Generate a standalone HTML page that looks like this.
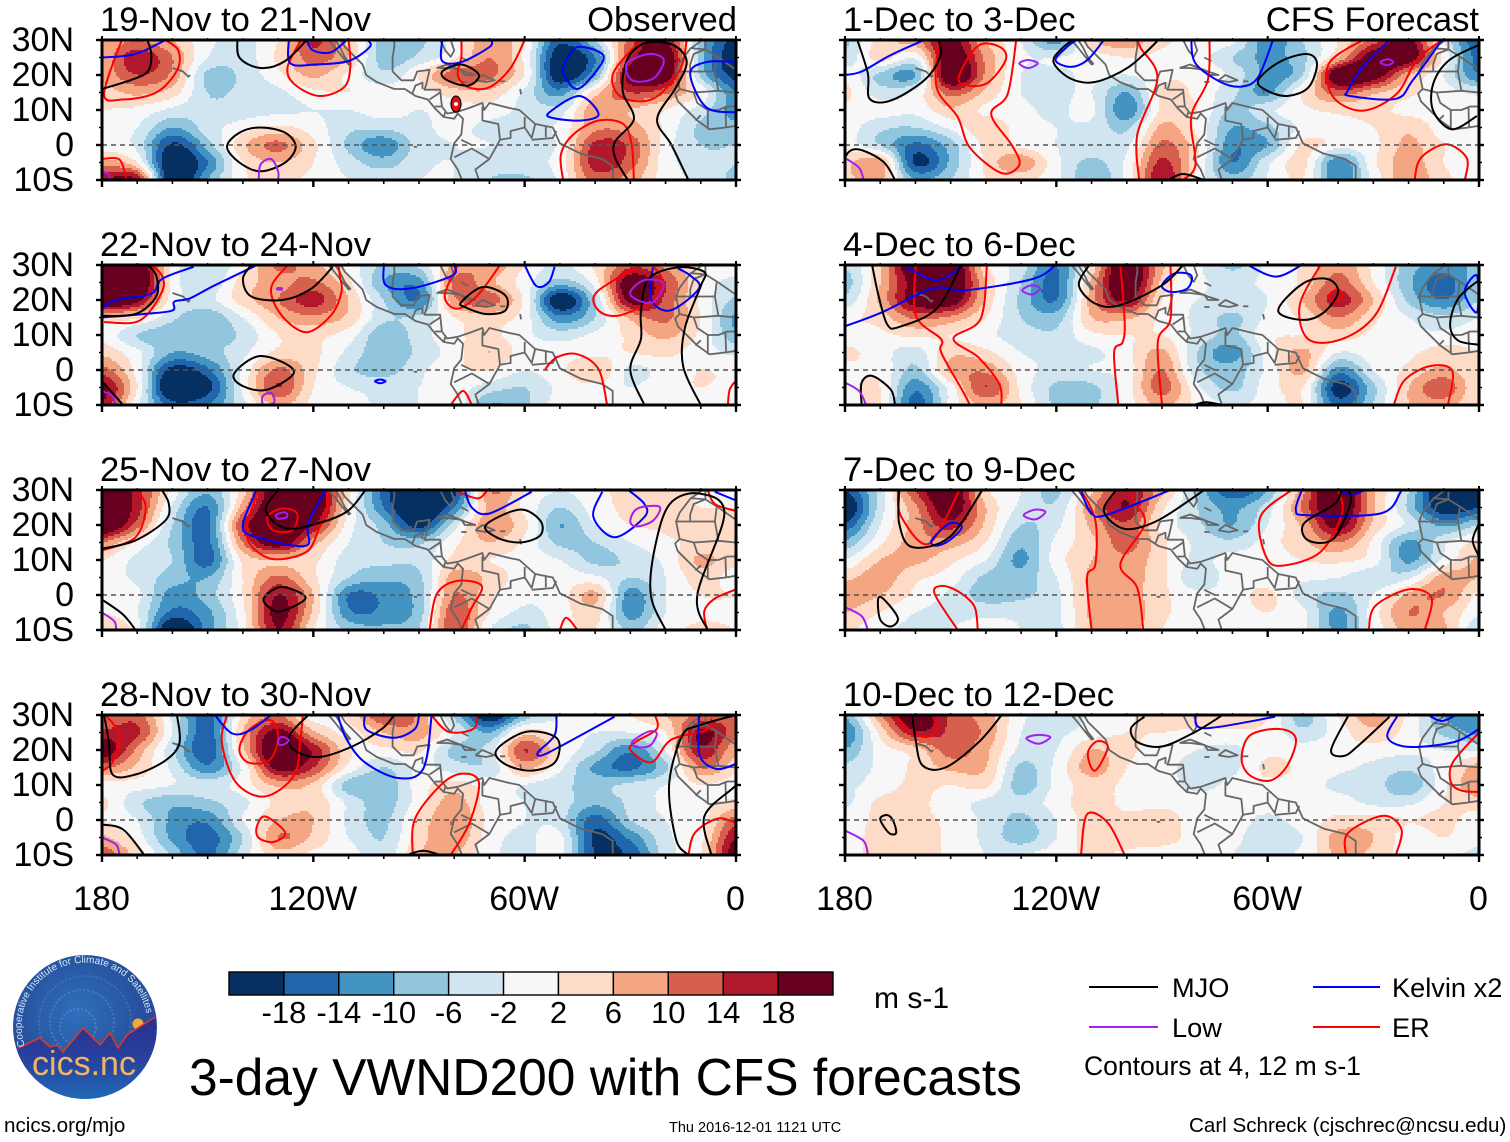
<!DOCTYPE html>
<html lang="en">
<head>
<meta charset="utf-8">
<title>3-day VWND200 with CFS forecasts</title>
<style>
html,body{margin:0;padding:0;background:#fff;width:1510px;height:1142px;overflow:hidden}
svg{display:block;font-family:"Liberation Sans",sans-serif}
</style>
</head>
<body>
<svg id="chart" xmlns="http://www.w3.org/2000/svg" width="1510" height="1142" viewBox="0 0 1510 1142">
  <defs>
    <radialGradient id="logoSky" cx="45%" cy="40%" r="70%">
      <stop offset="0" stop-color="#2f6fbc"/><stop offset="0.6" stop-color="#27529f"/><stop offset="1" stop-color="#2a3f98"/>
    </radialGradient>
    <linearGradient id="logoGround" x1="0" y1="0" x2="0" y2="1">
      <stop offset="0" stop-color="#2b2c8e"/><stop offset="0.5" stop-color="#27459f"/><stop offset="1" stop-color="#1f74bd"/>
    </linearGradient>
    <clipPath id="logoClip"><circle cx="85" cy="1027" r="72"/></clipPath>
    <path id="logoArc" d="M 25 1046 A 63 63 0 1 1 146 1040"/>
  </defs>
  <g id="panels"></g>

  <g id="colorbar"></g>
  <text x="874" y="1008" font-size="30">m s-1</text>

  <g>
    <circle cx="85" cy="1027" r="72" fill="url(#logoSky)"/>
    <g clip-path="url(#logoClip)">
      <circle cx="78" cy="1027" r="18" fill="none" stroke="#6f9fd6" stroke-width="2" stroke-dasharray="2 2" opacity=".45"/>
      <circle cx="82" cy="1022" r="32" fill="none" stroke="#6f9fd6" stroke-width="2" stroke-dasharray="2 2" opacity=".4"/>
      <circle cx="85" cy="1022" r="46" fill="none" stroke="#6f9fd6" stroke-width="2" stroke-dasharray="2 2" opacity=".3"/>
      <circle cx="138" cy="1024" r="5.5" fill="#f2a93b"/>
      <path d="M18 1048 L40 1038 L50 1047 L57 1045 L63 1052 L83 1028 L100 1045 L110 1033 L118 1048 L127 1035 L155 1017 L160 1110 L10 1110 Z" fill="url(#logoGround)" stroke="none"/>
      <path d="M18 1048 L40 1038 L50 1047 L57 1045 L63 1052 L83 1028 L100 1045 L110 1033 L118 1048 L127 1035 L155 1017" fill="none" stroke="#d8392b" stroke-width="1.6"/>
    </g>
    <text font-size="10" fill="#d6e8f6"><textPath href="#logoArc">Cooperative Institute for Climate and Satellites</textPath></text>
    <text x="84" y="1075" font-size="34" text-anchor="middle" fill="#f2b566">cics.nc</text>
  </g>

  <text x="189" y="1095" font-size="51.5">3-day VWND200 with CFS forecasts</text>

  <g>
    <line x1="1089" y1="987" x2="1158" y2="987" stroke="#000" stroke-width="2"/>
    <text x="1172" y="997" font-size="27.2">MJO</text>
    <line x1="1313" y1="987" x2="1380" y2="987" stroke="#0000ff" stroke-width="2"/>
    <text x="1392" y="997" font-size="27.2">Kelvin x2</text>
    <line x1="1089" y1="1027" x2="1158" y2="1027" stroke="#a020f0" stroke-width="2"/>
    <text x="1172" y="1037" font-size="27.2">Low</text>
    <line x1="1313" y1="1027" x2="1380" y2="1027" stroke="#ff0000" stroke-width="2"/>
    <text x="1392" y="1037" font-size="27.2">ER</text>
    <text x="1084" y="1075" font-size="26.5">Contours at 4, 12 m s-1</text>
  </g>

  <text x="4" y="1132" font-size="20.6">ncics.org/mjo</text>
  <text x="669" y="1132" font-size="14.5">Thu 2016-12-01 1121 UTC</text>
  <text x="1189" y="1132" font-size="20.6">Carl Schreck (cjschrec@ncsu.edu)</text>
</svg>

<script>
// ---------- Axis values ----------
const latLabels = ["30N","20N","10N","0","10S"];
const latTicks = [30,20,10,0,-10];
const lonLabels = ["180","120W","60W","0"];
const lonTicks = [-180,-120,-60,0];
const lonMinorTicks = [-170,-160,-150,-140,-130,-110,-100,-90,-80,-70,-50,-40,-30,-20,-10];
const latMinorTicks = [25,15,5,-5];
const colorLevels = [-18,-14,-10,-6,-2,2,6,10,14,18];
const colorHex = ["#053061","#2166ac","#4393c3","#92c5de","#d1e5f0","#f7f7f7","#fddbc7","#f4a582","#d6604d","#b2182b","#67001f"];

// ---------- Gridded wind (m/s). Rows: 30N to 10S every 5 deg. Columns: 180 to 0 every 10 deg ----------
const fieldNov19 = [
[7,10,6,-1,-3,2,15,5,-8,-7,0,9,2,-17,-6,12,18,-8,-20],
[7,17,10,-2,-4,3,12,6,-8,-5,1,10,1,-22,-14,15,24,-8,-22],
[7,14,9,-7,-5,1,7,1,-5,2,12,11,2,-22,-10,21,22,-7,-20],
[4,7,4,-6,-5,-3,1,2,0,0,4,5,-3,-12,4,14,11,1,-14],
[2,1,-3,-5,-4,-3,-2,-2,0,-2,0,0,-3,-4,9,6,2,-4,-12],
[1,-2,-10,-4,0,3,0,-5,-5,-3,-1,-3,-3,-1,9,8,1,-7,-9],
[0,-3,-19,-8,5,11,3,-7,-13,-4,-2,-2,-4,-1,15,13,0,-6,-6],
[8,2,-24,-14,2,6,2,-4,-8,-3,-2,-4,-3,0,16,12,0,-4,-6],
[18,18,-24,-10,1,3,1,-2,-3,-2,-2,-6,-7,-1,12,8,0,-3,-7]];
const fieldNov22 = [
[26,24,1,-6,1,11,7,1,-7,-5,7,9,2,-3,3,13,9,2,1],
[26,26,1,-5,4,8,11,3,-10,-12,11,7,0,-8,0,22,14,2,-4],
[26,20,0,-3,4,10,16,6,-6,-14,9,12,1,-22,-6,20,13,1,-7],
[5,3,-5,-9,-2,6,9,5,-5,-5,2,4,0,-13,-6,7,11,2,-11],
[1,-6,-9,-9,-5,2,3,0,-9,-4,1,3,-1,-4,-1,3,7,1,-9],
[5,-1,-10,-8,-3,3,3,-3,-9,-5,0,6,0,0,1,2,3,0,-3],
[12,0,-20,-15,-1,11,3,-5,-8,-3,1,2,-2,1,6,-3,0,2,1],
[20,2,-26,-20,-1,14,2,-2,-3,-2,0,-4,-6,-1,1,-2,1,2,1],
[18,-1,-16,-14,-3,7,1,0,-3,-2,1,-10,-7,0,0,0,1,1,0]];
const fieldNov25 = [
[24,16,1,-9,4,24,24,3,-16,-26,-20,10,2,-2,1,3,3,2,1],
[26,16,-3,-14,8,26,24,2,-14,-26,-14,7,1,-6,0,3,4,2,2],
[26,12,-6,-15,15,26,18,0,-8,-20,-4,9,3,-10,-2,2,3,6,3],
[10,1,-7,-15,10,22,8,-2,-6,-7,1,6,1,-7,-6,-2,1,3,3],
[2,-3,-6,-16,3,6,3,-4,-5,-5,3,2,0,-2,-7,-5,-1,7,3],
[0,-3,-8,-10,2,11,3,-6,-9,-7,8,5,0,0,-1,-6,-2,4,0],
[1,-1,-12,-8,2,18,6,-14,-13,-8,10,3,-1,0,7,-12,-2,2,2],
[2,-2,-15,-11,1,20,5,-13,-13,-8,13,2,-3,0,4,-12,-2,1,1],
[6,0,-24,-12,0,18,2,-7,-9,-6,14,-2,-7,0,2,-7,0,3,2]];
const fieldNov28 = [
[9,12,-3,-16,3,10,0,3,14,9,-7,-22,-9,-2,0,2,6,11,12],
[15,15,-2,-16,6,20,7,1,6,8,-2,-10,4,0,-2,-2,2,19,12],
[22,9,-5,-17,5,26,17,3,1,3,-7,-4,14,2,-5,-13,-2,17,7],
[11,5,-3,-13,-1,20,14,1,-6,-1,-4,-5,7,-1,-11,-15,-7,10,4],
[1,0,-2,-4,0,7,5,-8,-9,0,4,0,-2,-5,-7,-5,-2,2,0],
[3,-5,-9,-7,-3,3,5,-3,-8,0,8,0,-2,-4,-9,-5,-1,1,3],
[2,-2,-11,-13,-2,6,6,-3,-7,3,10,1,-2,-4,-16,-6,-2,0,12],
[7,0,-11,-16,-6,10,5,-2,-6,4,9,0,-3,-1,-19,-13,-3,1,18],
[13,4,-7,-15,-4,4,1,0,-5,6,6,-1,-3,-1,-18,-17,-4,2,22]];
const fieldDec1 = [
[-7,4,9,20,6,-2,-12,5,9,3,1,-1,-12,-6,2,12,20,-2,-18],
[-5,4,-1,22,9,-1,-2,0,2,1,0,-6,-11,-7,6,22,22,1,-16],
[1,-7,-10,25,9,-2,-3,-1,-2,1,1,-3,-11,-6,24,22,7,-2,-14],
[3,-4,-1,12,5,-2,-3,-2,-10,3,1,-5,-11,2,12,7,3,0,-3],
[1,0,-1,5,1,-1,-3,-1,-13,3,2,-7,-3,1,3,3,1,0,0],
[0,-5,-6,-1,5,0,-2,-3,-7,7,1,-10,-7,-1,1,2,5,0,0],
[0,-6,-15,-8,3,1,-2,-3,-3,11,3,-13,-10,3,0,1,7,2,0],
[5,8,-19,-9,3,9,-1,-7,-1,15,2,-14,-3,3,-13,1,8,2,0],
[5,7,-10,-6,2,3,-1,-9,-1,18,1,-8,-2,2,-13,-1,9,3,0]];
const fieldDec4 = [
[-6,6,25,25,3,-4,-14,3,25,7,-1,-7,-1,3,9,1,-8,-12,-9],
[-8,6,21,25,6,-6,-15,7,24,5,-1,-3,-1,3,12,2,-9,-16,-7],
[-5,7,21,22,5,-7,-14,8,19,2,-2,-3,-2,6,16,6,-7,-14,-6],
[1,4,11,9,2,-6,-8,6,7,1,-3,-7,-1,3,10,3,-2,-5,-2],
[0,1,3,2,-1,-4,-5,1,2,2,-3,-7,1,2,4,1,-1,-1,0],
[3,0,-4,5,3,-2,-3,-3,1,7,-6,-12,0,7,-2,0,1,4,2],
[1,1,-7,7,9,0,-3,-2,0,10,-5,-8,-1,7,-12,-2,3,7,2],
[1,2,-13,0,14,1,-7,-7,0,12,-1,-7,0,2,-20,-7,6,13,2],
[0,2,-16,-1,7,2,-7,-7,0,7,1,-2,-1,2,-16,-6,6,8,2]];
const fieldDec7 = [
[-18,-4,14,24,3,-2,-7,5,17,7,-7,-17,-10,9,26,7,-6,-24,-24],
[-24,-4,9,22,6,-3,-5,9,18,3,-6,-11,-4,11,24,7,-7,-22,-18],
[-17,-2,8,16,5,-6,-3,7,13,1,-5,-10,-2,7,20,5,-3,-11,-6],
[-9,1,8,8,2,-9,-1,5,12,3,-3,-5,0,5,10,1,-11,-3,3],
[-2,6,7,3,-2,-11,0,6,9,3,-3,0,0,2,3,0,-11,-1,7],
[5,8,3,0,-7,-8,-2,7,8,3,-5,0,0,-1,-2,-5,-3,8,6],
[8,6,1,-3,-8,-7,-3,7,8,3,-1,0,3,-4,-7,-2,7,10,1],
[6,2,-2,-3,-3,-3,-3,7,9,3,0,0,2,-1,-11,0,10,6,-1],
[3,-1,-3,-2,0,-2,-3,6,8,2,0,0,1,-1,-11,-1,8,7,-6]];
const fieldDec10 = [
[-10,9,23,13,8,-1,-5,-1,1,6,4,5,2,-8,2,8,1,-10,-13],
[-14,3,17,13,9,-2,-3,0,2,2,1,1,1,-5,0,5,0,-7,-11],
[-10,0,4,12,7,-3,-2,6,3,0,-2,-3,1,0,1,0,-1,-2,-2],
[-5,-1,3,7,6,-7,-1,8,2,-1,-3,-3,3,1,-1,-3,-5,0,8],
[-3,0,3,2,3,-8,-1,4,1,0,-3,-1,1,0,-3,-4,-9,1,10],
[-3,3,3,0,-3,-5,0,4,1,1,0,0,0,0,0,-3,-3,2,4],
[0,3,3,1,-3,-7,-2,4,3,4,0,0,-3,0,3,4,2,3,0],
[1,3,4,1,-3,-8,-2,4,4,3,1,-1,-4,-2,8,6,0,2,-1],
[1,3,4,1,-2,-2,0,3,1,1,1,-2,-3,-1,7,5,0,-1,-3]];

// ---------- Contours in [lon, lat] ----------
const mjoNov19 = [
[[-167.5,31],[-166,26],[-167,21],[-172,18.5],[-180,16]],
[[-141.5,31],[-141,25],[-135,22],[-128,24],[-121,31]],
[[-144.5,-0.5],[-141,3.5],[-135,5],[-128,3.5],[-125,-0.5],[-128,-5],[-135,-7.5],[-141,-5]],
[[-83.4,21],[-78,23],[-73,20],[-76,17],[-82,18.5]],
[[-30.7,-10],[-34.3,-3.7],[-34.3,1],[-29,7.4],[-32,14.6],[-32,20.4],[-30,26],[-25,29.3],[-17.7,28.5],[-14,23.8],[-17,16.5],[-22.4,7.4],[-18.3,0],[-13.5,-10]]];
const erNov19 = [
[[-174,31],[-179.4,14.6],[-174,13],[-164.6,15],[-158.7,21.3],[-158.3,27],[-162,30]],
[[-123.5,30],[-127.3,22.3],[-125.5,17.5],[-118.4,14],[-111.3,16.5],[-109.5,22.3],[-110,30]],
[[-49.1,-10],[-49.7,-2.7],[-46.2,3],[-39,7],[-32,6],[-29.6,0],[-29,-10]],
[[-78,30.5],[-78,25],[-79,20],[-76,16.5],[-70,16.5],[-64,22],[-60,30]],
[[-27,30],[-34.9,20.4],[-32.5,13.7],[-23.6,13.2],[-16,21.3],[-14,30]],
[[-180,-4],[-175,-4.2],[-173,-10]]];
const kelvinNov19 = [
[[-180,25],[-170.5,26],[-161,30.5]],
[[-122,30],[-120,27],[-115,26.5],[-110.5,30]],
[[-127,30],[-126.5,23.3],[-119.5,23],[-110,24],[-104,28],[-104.5,30]],
[[-83.4,30],[-83.4,24],[-78,23.7],[-70,28],[-69.5,30]],
[[-48.5,23.5],[-45,28],[-38,26],[-39,22],[-45,16],[-49,20.5]],
[[-53,9.3],[-44.5,14],[-39,8.8],[-44,7],[-52,7.7]],
[[0,23.7],[-8.5,23.7],[-13,20.4],[-8.5,10.8],[0,9.3]]];
const lowNov19 = [
[[-31,23.3],[-24.5,26],[-20.5,24.2],[-23.5,19],[-29.5,18.5]],
[[-135.5,-10],[-135,-5.6],[-132,-4],[-130,-7.5],[-130,-10]],
[[-180,-7.5],[-178,-8.5],[-178,-10]]];

const mjoNov22 = [
[[-180,15.5],[-170.5,16],[-164.6,21],[-164.6,27],[-167,30]],
[[-137.6,30],[-140,26],[-137.6,21],[-128.8,20],[-120.5,23.3],[-114.5,29.5]],
[[-142.5,-1],[-135,4],[-125.5,-0.3],[-133,-5.6],[-140,-4.6]],
[[-78,19.4],[-72,23.7],[-65.5,21.3],[-65.5,17],[-71,16],[-77,18]],
[[-26,-10],[-30,0],[-27,8.8],[-27,16.5],[-24.8,26],[-16.5,29.3],[-9,28],[-10,24],[-14.5,12],[-15,1],[-10,-10]],
[[-180,-3.2],[-174,-10]]];
const erNov22 = [
[[-179.4,13.7],[-169.3,14.1],[-163,22.3],[-163,27],[-166,30]],
[[-127.3,30],[-132,23.3],[-129,15.6],[-122,10.8],[-115,15.6],[-112,22.3],[-112.5,27],[-113,31]],
[[-79,30],[-82.7,21.3],[-79.3,17.5],[-73.4,21.3],[-67,30]],
[[-27,30],[-39.5,22.3],[-39,17],[-33,15.6],[-23.4,20.4],[-21,25.7],[-23.4,29.5]],
[[-54.2,0.2],[-50.9,3.6],[-45,4.5],[-39,0.2],[-36.6,-10]],
[[-81,-10],[-77.5,-6],[-75,-10]],
[[-2.3,-10],[-1.8,-5.6],[0,-3]]];
const kelvinNov22 = [
[[-180,17.5],[-176,20],[-166,21.8],[-163,26],[-154,29.5]],
[[-180,15],[-168,16],[-160,17],[-159.5,19.5],[-155,20.5],[-148,24.2],[-136,30]],
[[-100,30],[-99.4,24.2],[-92.3,23.3],[-80.5,27],[-80,30]],
[[-60,30],[-56.7,24],[-53.2,25],[-51.5,29.5]],
[[-23.6,29.3],[-24.2,20.4],[-18.8,17],[-10.5,23.3],[-13,27],[-16.5,29]],
[[-102.5,-3.2],[-101,-2.7],[-99.5,-3.2],[-101,-3.8]]];
const lowNov22 = [
[[-30,22.3],[-26,25.7],[-20.5,24.7],[-23.5,19.4],[-28,20]],
[[-134.4,-10],[-134.4,-7.5],[-132,-6.5],[-131,-9],[-132.5,-10]],
[[-180,-6],[-177,-7.5],[-176.4,-10]],
[[-130.2,23.4],[-129,23.4],[-129,23],[-130.2,23]]];

const mjoNov25 = [
[[-180,13.2],[-170.5,15.6],[-162,21.3],[-161,26],[-163,30]],
[[-130,30],[-133.5,24.2],[-127.6,19],[-117,21],[-110,24.2],[-105.2,30]],
[[-71,20],[-61.5,24.4],[-55.6,21.3],[-55.6,17],[-61.5,15],[-68,16.5]],
[[-134,-0.8],[-129,2.3],[-122.2,-0.8],[-129,-4.6],[-132.5,-3.6]],
[[-20,-10],[-24.2,0],[-23,13.7],[-18.8,26],[-10.5,29],[-3.3,23.3],[-11,0],[-8,-10]],
[[-180,-1.3],[-174,-5.6],[-170.5,-10]]];
const erNov25 = [
[[-170,30],[-167.6,25],[-170.5,16.5],[-180,12.7]],
[[-135.6,30],[-138.6,20.4],[-138,14.6],[-131.6,10.3],[-122,12.3],[-118.4,19],[-116.2,24.2],[-116,30]],
[[-133,22.3],[-129,24.7],[-124.6,23.3],[-126,18.5],[-131.4,18.5]],
[[-87,-10],[-85,0.2],[-79.3,4],[-72.2,2.6],[-75,-3.6],[-78,-10]],
[[-50,-10],[-48.2,-6.5],[-45,-10]],
[[-8.2,-10],[-9,-4.6],[-6,-1],[0,1.6]],
[[-80,30],[-73.5,27.6],[-70.5,30]],
[[-8,30],[-6,26],[0,24]]];
const kelvinNov25 = [
[[-135.6,31],[-137,28],[-140,19],[-134,16],[-122,14.1],[-121.5,20.4],[-116.5,30]],
[[-77,30],[-75,25],[-70,23.3],[-58,29.5]],
[[-38,29.5],[-40.5,22.3],[-34.4,16.5],[-26,22.3],[-26,26],[-30.6,30]],
[[-6,29.5],[0,27]]];
const lowNov25 = [
[[-30,21],[-28,24.7],[-21.7,25.2],[-23.5,21.3],[-28,19.6]],
[[-130.5,23],[-128,23.6],[-127.5,22.3],[-130,21.8]],
[[-180,-5],[-176.5,-7.5],[-176,-10]]];

const mjoNov28 = [
[[-179.4,30],[-178,22],[-177,13],[-170.5,13],[-162,17],[-158,22],[-158.7,30]],
[[-121.4,30],[-126.7,24.2],[-125.5,20],[-118.4,18],[-109,21],[-100.6,26],[-97,30]],
[[-68,20],[-59.6,25.2],[-50.8,23.3],[-51.4,16.5],[-58.4,14.1],[-65.6,16]],
[[-93.5,-10],[-88.8,-8.8],[-84,-10]],
[[-13.5,-10],[-17,-5.6],[-19,10],[-15.3,24],[-10.5,27],[0,30]],
[[-7,-10],[-9,1],[-1,9],[0,9.5]],
[[-180,-1.3],[-174,-2.7],[-168,-10]]];
const erNov28 = [
[[-179,30],[-175,24.2],[-177,16.5],[-180,14]],
[[-144.5,30],[-146,22.3],[-142,10.8],[-133.8,6.7],[-125.5,12.7],[-123.7,23],[-123,30]],
[[-141,20.4],[-138,26],[-132,28.5],[-130,23.3],[-132.6,17],[-138.6,16.5]],
[[-136,-1.7],[-133.6,1],[-128,-3.6],[-131.4,-6.3],[-135.6,-5]],
[[-91.8,-10],[-91.2,0.2],[-84,9.8],[-78,13.2],[-73,10.8],[-75.6,-0.7],[-81,-10]],
[[-86.5,30],[-81.6,25.2],[-74.6,26],[-73.4,30]],
[[-23,30],[-22.5,26],[-28.5,22.3],[-30,20],[-24,16.5],[-18.3,23],[-8.3,25.7],[-7,29]],
[[-13.5,-10],[-11.7,-3.7],[-5.3,0.4],[0,-0.8]]];
const kelvinNov28 = [
[[-105.4,30],[-104.8,25.7],[-97,23.5],[-91.2,26],[-90,30]],
[[-148,30],[-143,24.7],[-137.8,25.7],[-132,30]],
[[-113,30],[-110.7,23.3],[-105.4,16.5],[-96,12],[-88.8,14.6],[-86.4,30]],
[[-51,30],[-51.5,24.2],[-56.2,19.4],[-55,18.5],[-48.5,21.8],[-34.5,29.5]],
[[-10.5,30],[-10.3,18.5],[-5.6,14.6],[0,16]]];
const lowNov28 = [
[[-29.5,22.3],[-25,25.2],[-22.5,24.7],[-24.4,21.3],[-28,20.8]],
[[-129.7,23.3],[-128.5,23.7],[-127,22.8],[-128.5,21.5],[-130,21.8]],
[[-180,-5],[-176,-7],[-175,-10]]];

const mjoDec1 = [
[[-176.5,30],[-173.5,20.4],[-173,13.2],[-167,12.7],[-157.5,18.5],[-153,25.2],[-153.4,30]],
[[-180,-10],[-180,-3.7],[-176.5,-1.2],[-169.3,-4.6],[-165.8,-10]],
[[-114,31],[-118.4,27.6],[-120.8,23.7],[-116,19],[-109,18],[-99.4,22.3],[-91,30]],
[[-88.2,-10],[-84,-8.3],[-78.1,-10]],
[[-62.7,18.5],[-56.7,23.7],[-49,26],[-46,23.3],[-48.4,16.5],[-54.4,14],[-60.3,15.6]],
[[0,28.6],[-8.5,24.2],[-13,17.5],[-13,9.8],[-7.7,4.5],[-0.6,8.3]]];
const erDec1 = [
[[-147,21.3],[-142,28.5],[-136,28],[-134.4,24.2],[-140,17.5],[-147,17.5]],
[[-153.4,30],[-154,16.5],[-148,8],[-144.5,-0.8],[-135.6,-8],[-130.5,-5.6],[-132.6,-0.1],[-138.5,8.8],[-133.8,14.6],[-131.4,30]],
[[-97,30],[-96,27.6],[-91.3,19],[-97,3],[-96.5,-10]],
[[-76.5,30],[-77,18.5],[-81.7,8],[-80.5,-5.6],[-84,-10]],
[[-33,30],[-42.6,23.3],[-41.4,13.7],[-33,9.8],[-23.4,14.6],[-17.7,24.2],[-10.5,30]],
[[-18.3,-10],[-16.5,-3.7],[-9.4,0.2],[-3.5,-3.7],[-4,-10]]];
const kelvinDec1 = [
[[-180,20],[-175.3,21],[-167,25.7],[-157.5,30]],
[[-106.5,30],[-111.3,24.2],[-116,22.3],[-120.2,24.2],[-117,28],[-114.3,30]],
[[-81.7,30],[-80.5,23.3],[-73.4,18],[-67.4,16.7],[-62.7,19.4],[-58.5,30]],
[[-25.4,30],[-33,22.3],[-37.2,15.6],[-36.6,14],[-23.6,13.2],[-18.8,18.5],[-10.5,30]]];
const lowDec1 = [
[[-28,23.6],[-26,24.5],[-24.4,23.7],[-26,22.8]],
[[-130.5,23.3],[-128,24.3],[-125.3,23.3],[-128,22]],
[[-180,-3.7],[-176,-6.5],[-174.7,-10]]];

const mjoDec4 = [
[[-172.3,30],[-170.5,21.3],[-168,13],[-164.6,12.3],[-154,17.5],[-147,30]],
[[-110.7,30],[-113.6,24.2],[-109,19],[-102,18.5],[-90,24.2],[-84,30]],
[[-57,17],[-50,24.7],[-43,26],[-40,22.3],[-44,16.5],[-50,14.3]],
[[-175.3,-10],[-175.3,-3.7],[-172.3,-1.7],[-167,-5.6],[-165.8,-10]],
[[-81,-10],[-77.5,-9.2],[-72.8,-10]],
[[0,25.7],[-5.9,20.4],[-8.2,13],[-5.9,8.4],[0,7.2]]];
const erDec4 = [
[[-159.9,30],[-159.9,15.6],[-152.7,8.8],[-152.7,5],[-146.8,-5.6],[-144.5,-10]],
[[-139.7,30],[-141.5,14.6],[-149.2,9],[-142.1,3.6],[-136.2,-4],[-135.6,-10]],
[[-101.8,30],[-100.6,13.7],[-101.2,7.9],[-103.6,5],[-102.4,-10]],
[[-87.6,30],[-87.6,14.6],[-91.2,8],[-90,-10]],
[[-45,30],[-50.9,18.5],[-48.5,8.8],[-39,8.8],[-29.5,15.6],[-23.6,29.5]],
[[-42.6,21.3],[-40.2,23],[-38.8,21.3],[-40.8,19.6]],
[[-24.2,-10],[-21.2,-3],[-14,1.1],[-7.6,-0.2],[-8.8,-10]]];
const kelvinDec4 = [
[[-180,12.5],[-169.5,16.5],[-155.1,23.3],[-145.6,22.8],[-126.7,26],[-120.2,30]],
[[-162.8,29.5],[-154,25.7],[-146.8,29.5]],
[[-90,24.2],[-86.4,27.6],[-81.7,27],[-82.8,23.3],[-87.6,22.3]],
[[-65.7,30],[-57.7,26.7],[-50.3,30]],
[[-0.6,27],[-4.1,22.3],[-0.6,16.5]]];
const lowDec4 = [
[[-129.7,22.8],[-127,24.2],[-124.6,23.3],[-127,21.6]],
[[-180,-3.6],[-176,-6],[-174,-10]]];

const mjoDec7 = [
[[-164.6,30],[-164.6,20.4],[-161,13.7],[-150.4,16.5],[-141,30]],
[[-103,30],[-106.5,24],[-100.6,18.9],[-91.2,21.3],[-78,30]],
[[-39,30],[-41,26],[-49.7,20.4],[-48.5,15.6],[-41.4,16],[-36.5,26],[-37,30]],
[[-170.6,-1.2],[-169,-1.2],[-165,-6.5],[-167,-9],[-170,-7]],
[[0,20.4],[-1.8,15.6],[0,11]]];
const erDec7 = [
[[-165,30],[-164,22.3],[-156.3,14.6],[-148,29],[-147.5,31]],
[[-113,30],[-108.9,21.3],[-108.9,8.8],[-111.3,5],[-110,-10]],
[[-99,31],[-98.2,27],[-94.9,20.4],[-101.8,8.8],[-97,2],[-95.3,-10]],
[[-53.2,30],[-62.1,22.3],[-60.4,10.8],[-55.7,8.4],[-45,12.3],[-38.9,23.3],[-40,30]],
[[-148,-10],[-154.5,0.2],[-152.7,2.6],[-148,1.1],[-143.3,-3.2],[-142.3,-10]],
[[-31.3,-10],[-29.5,-3.2],[-20,1.6],[-13.5,-0.8],[-15.4,-10]]];
const kelvinDec7 = [
[[-155.4,15.6],[-150.4,20.4],[-146.8,19.4],[-150.4,15.6],[-154,14.1]],
[[-113,29.5],[-110,23.3],[-105.4,23],[-87.6,30]],
[[-50.3,30],[-52,24.2],[-48.5,22.8],[-28,23.3],[-22.5,29],[-23,30]],
[[-39.4,29.5],[-36,28.7],[-32.4,30]]];
const lowDec7 = [
[[-129.3,22.8],[-126,24.4],[-123.1,23.7],[-126,21.6]],
[[-180,-3.5],[-175.3,-6],[-173.5,-10]]];

const mjoDec10 = [
[[-161,31],[-160,23.3],[-158,15.6],[-151.5,15],[-142,22.3],[-135.5,30]],
[[-95,29.5],[-98.8,26.2],[-97,22.3],[-90,21],[-80.5,25.2],[-72.8,30]],
[[-37,30],[-42,20],[-38.4,18.3],[-34.2,21.3],[-25.4,29.5]],
[[-170,0.2],[-168,1.4],[-166.3,-0.3],[-165.5,-3.7],[-167.5,-3.7]]];
const erDec10 = [
[[-165.2,30],[-162.8,26],[-157,23.7],[-154,26],[-155,29.5]],
[[-111,19.4],[-108.4,22.5],[-105.4,20.9],[-108.4,14.6],[-110.1,15]],
[[-67.4,17.5],[-65,24.2],[-56.7,26],[-52,23.3],[-54.4,15.6],[-59.2,11.3],[-65,12.7]],
[[-113,-10],[-111.3,1.6],[-105.4,-0.8],[-100.6,-10]],
[[-37.8,-10],[-37.2,-3.7],[-27.2,1.2],[-22,-2.7],[-23.6,-10]],
[[0,25],[-7.4,16.5],[-8,10.8],[-5,8.4],[0,8]]];
const kelvinDec10 = [
[[-80.5,30],[-78,26.2],[-57.9,29.5]],
[[-23,30],[-26,23.7],[-20,20.9],[-7,22.3],[0,26]],
[[-14,29.7],[-10.6,28.3],[-7,29.7]]];
const lowDec10 = [
[[-128.5,23.3],[-125.5,24.3],[-121.7,23.7],[-125,21.8]],
[[-180,-3],[-174.7,-6],[-173.5,-10]]];

// ---------- Coastlines and borders in [lon, lat] ----------
const coastLines = [
[[-117,32.5],[-115.7,30],[-114,28],[-112,25.5],[-110,23],[-109.5,23.2],[-111,25],[-112.5,28],[-114.5,31]],
[[-113,31.3],[-111,28],[-109,26],[-106,23],[-105,20],[-102,18],[-97,16],[-94,16],[-91,14],[-87.5,13],[-85.5,10.5],[-83,8],[-80,7.5],[-79,9],[-77.5,7.5],[-78,3],[-80,0.5],[-81,-4],[-79,-7],[-77,-12]],
[[-97,30],[-97,28],[-97.5,25],[-97.5,21],[-95,18.5],[-91.5,18.5],[-90.5,21],[-87,21.5],[-88,17],[-88.5,15.8],[-84,15.8],[-83.5,11],[-82,9],[-79,9.5],[-75.5,10.7],[-72,12],[-71.5,10],[-70,12],[-64,10.5],[-61.5,10],[-57,6],[-52,5],[-50,0.5],[-44,-2.5],[-38,-4],[-35,-6],[-35,-10]],
[[-90,30],[-84,30],[-82.5,27],[-81,25.2],[-80,27],[-81,30]],
[[-85,22],[-82,23],[-77,21],[-74,20],[-77,20],[-78,21.5],[-82,22],[-85,22]],
[[-74,18.5],[-72,20],[-68.5,18.5],[-71,18],[-74,18.5]],
[[-67,18.2],[-65.5,18.2]],[[-78,18],[-76.5,18]],[[-78,25],[-76,24]],
[[-160,22],[-157,21],[-155.5,19.5],[-155,20]],
[[-91.5,-0.5],[-90.5,-0.5]],[[-61.3,16],[-61,14.5]],
[[-9.5,30],[-13,27.5],[-16,23.5],[-17,21],[-16,16],[-17.3,14.7],[-16.5,12.5],[-13.5,9.5],[-11,7],[-7.5,4.5],[-3,5],[0,5.5]],
[[-17,21],[-13,21],[-13,23],[-12,26],[-8.7,27.3],[-13,27.7]],
[[-8.7,27.3],[-8.7,30]],[[-8.7,27.3],[-5,25],[0,21.5]],
[[-13,21],[-6,21],[-5.5,25]],[[-6,21],[-5,15.5],[-12,15],[-16,16]],
[[-12,15],[-11,12],[-8,10],[-5,10],[-2.5,11],[0,11]],
[[-8,10],[-8,4.5]],[[-2.8,5],[-3,11]],[[-11.5,7],[-10,8.5]],[[-5,15.5],[0,15]],
[[-72,11],[-72,7],[-67.5,6],[-67,1.5],[-70,-4],[-74,-7],[-73,-10]],
[[-80,-3.5],[-75,-1],[-70,-4]],[[-78,1.5],[-75,0]],
[[-60,8],[-60,5],[-64,4],[-64,2],[-67,1.5]],[[-57,6],[-58,2],[-60,5]],
[[-54,5.5],[-54,2.2]],[[-58,1.5],[-52,2],[-51,4]],
[[-92,14.5],[-91,17],[-89,17.8],[-89,16]],[[-87,13],[-84,15]],[[-85.5,11],[-83.7,11]],[[-83,8],[-82.5,9.5]]];

// ---------- Panel definitions ----------
const panelTitles = ["19-Nov to 21-Nov","22-Nov to 24-Nov","25-Nov to 27-Nov","28-Nov to 30-Nov","1-Dec to 3-Dec","4-Dec to 6-Dec","7-Dec to 9-Dec","10-Dec to 12-Dec"];
const panelFields = [fieldNov19,fieldNov22,fieldNov25,fieldNov28,fieldDec1,fieldDec4,fieldDec7,fieldDec10];
const panelMjo = [mjoNov19,mjoNov22,mjoNov25,mjoNov28,mjoDec1,mjoDec4,mjoDec7,mjoDec10];
const panelEr = [erNov19,erNov22,erNov25,erNov28,erDec1,erDec4,erDec7,erDec10];
const panelKelvin = [kelvinNov19,kelvinNov22,kelvinNov25,kelvinNov28,kelvinDec1,kelvinDec4,kelvinDec7,kelvinDec10];
const panelLow = [lowNov19,lowNov22,lowNov25,lowNov28,lowDec1,lowDec4,lowDec7,lowDec10];
const cycloneLon = -79.5;
const cycloneLat = 11.7;

const NS = "http://www.w3.org/2000/svg";
const PW = 634, PH = 140, STEP = 2;
const colX = [102, 845];
const rowY = [40, 265, 490, 715];

function el(tag, attrs, parent) {
  const e = document.createElementNS(NS, tag);
  for (const k in attrs) e.setAttribute(k, attrs[k]);
  parent.appendChild(e);
  return e;
}
function levelIndex(v) {
  let i = 0;
  while (i < colorLevels.length && v >= colorLevels[i]) i++;
  return i;
}
function cubic(a, b, c, d, t) {
  return b + 0.5 * t * (c - a + t * (2 * a - 5 * b + 4 * c - d + t * (3 * (b - c) + d - a)));
}
function sample(grid, lon, lat) {
  const fx = (lon + 180) / 10, fy = (30 - lat) / 5;
  const ix = Math.min(17, Math.floor(fx)), iy = Math.min(7, Math.floor(fy));
  const tx = fx - ix, ty = fy - iy;
  const vals = [];
  for (let j = -1; j <= 2; j++) {
    const row = grid[Math.max(0, Math.min(8, iy + j))];
    const g = i => { const v = row[Math.max(0, Math.min(18, i))]; return v === undefined ? 0 : v; };
    vals.push(cubic(g(ix - 1), g(ix), g(ix + 1), g(ix + 2), tx));
  }
  return cubic(vals[0], vals[1], vals[2], vals[3], ty);
}
function smoothPath(pts, xs, ys) {
  const p = pts.map(q => [xs(q[0]), ys(q[1])]);
  const a = pts[0], b = pts[pts.length - 1];
  const inner = q => q[0] > -179.5 && q[0] < -0.5 && q[1] < 28.8 && q[1] > -9.5;
  const closed = inner(a) && inner(b);
  const n = p.length;
  const at = i => closed ? p[(i + n) % n] : p[Math.max(0, Math.min(n - 1, i))];
  let d = "M" + p[0][0].toFixed(1) + " " + p[0][1].toFixed(1);
  const segs = closed ? n : n - 1;
  for (let i = 0; i < segs; i++) {
    const p0 = at(i - 1), p1 = at(i), p2 = at(i + 1), p3 = at(i + 2);
    const c1 = [p1[0] + (p2[0] - p0[0]) / 6, p1[1] + (p2[1] - p0[1]) / 6];
    const c2 = [p2[0] - (p3[0] - p1[0]) / 6, p2[1] - (p3[1] - p1[1]) / 6];
    d += "C" + c1[0].toFixed(1) + " " + c1[1].toFixed(1) + " " + c2[0].toFixed(1) + " " + c2[1].toFixed(1) + " " + p2[0].toFixed(1) + " " + p2[1].toFixed(1);
  }
  return d + (closed ? "Z" : "");
}

const root = document.getElementById("panels");
const defs = document.querySelector("#chart defs");

panelTitles.forEach((title, idx) => {
  const col = idx < 4 ? 0 : 1;
  const x0 = colX[col], y0 = rowY[idx % 4];
  const xs = lon => x0 + (lon + 180) / 180 * PW;
  const ys = lat => y0 + (30 - lat) / 40 * PH;
  const lonOf = px => (px - x0) / PW * 180 - 180;
  const latOf = py => 30 - (py - y0) / PH * 40;

  const clip = el("clipPath", {id: "plot" + idx}, defs);
  el("rect", {x: x0, y: y0, width: PW, height: PH}, clip);

  const panel = el("g", {}, root);
  
  

  // Heatmap: one path per colour band, built from the sampled grid
  const heat = el("g", {"shape-rendering": "crispEdges", "clip-path": "url(#plot" + idx + ")"}, panel);
  
  
  const grid = panelFields[idx];
  const bands = colorHex.map(() => []);
  for (let py = y0; py < y0 + PH; py += STEP) {
    let start = x0, cur = -1;
    for (let px = x0; px <= x0 + PW; px += STEP) {
      const c = px >= x0 + PW ? -1 : levelIndex(sample(grid, lonOf(px + STEP / 2), latOf(py + STEP / 2)));
      if (c !== cur) {
        if (cur >= 0) bands[cur].push("M" + start + " " + py + "H" + px + "V" + (py + STEP) + "H" + start + "Z");
        start = px; cur = c;
      }
    }
  }
  bands.forEach((runs, i) => {
    if (!runs.length) return;
    const band = el("path", {d: runs.join(""), fill: colorHex[i]}, heat);
    
    
  });

  // Coastlines
  const coast = el("g", {fill: "none", stroke: "#666", "stroke-width": 1.8, "stroke-linejoin": "round", "clip-path": "url(#plot" + idx + ")"}, panel);
  
  
  coastLines.forEach(line => {
    const pl = el("polyline", {points: line.map(q => xs(q[0]).toFixed(1) + "," + ys(q[1]).toFixed(1)).join(" ")}, coast);
    
    
  });

  // Wave contours
  const groups = [["er-contour", panelEr[idx], "#ff0000"], ["kelvin-contour", panelKelvin[idx], "#0000ff"], ["mjo-contour", panelMjo[idx], "#000000"], ["low-contour", panelLow[idx], "#a020f0"]];
  const cg = el("g", {fill: "none", "stroke-width": 2, "clip-path": "url(#plot" + idx + ")"}, panel);
  
  
  groups.forEach(g => {
    g[1].forEach(line => {
      const path = el("path", {d: smoothPath(line, xs, ys), stroke: g[2]}, cg);
      
      
    });
  });

  // Equator
  const eq = el("line", {x1: x0, x2: x0 + PW, y1: ys(0), y2: ys(0), stroke: "#555", "stroke-width": 1.4, "stroke-dasharray": "5 4"}, panel);
  
  

  // Tropical cyclone marker on first panel
  if (idx === 0) {
    const tc = el("g", {}, panel);
    
    
    el("ellipse", {cx: xs(cycloneLon), cy: ys(cycloneLat), rx: 5, ry: 8, fill: "#e01010", stroke: "#000", "stroke-width": 1.2}, tc);
    el("circle", {cx: xs(cycloneLon), cy: ys(cycloneLat), r: 2.2, fill: "#fff", stroke: "#e01010", "stroke-width": 0.5}, tc);
  }

  // Frame
  const frame = el("rect", {x: x0, y: y0, width: PW, height: PH, fill: "none", stroke: "#000", "stroke-width": 3}, panel);
  
  

  // Ticks
  const ticks = el("g", {stroke: "#000"}, panel);
  
  
  const tick = (x1, y1, x2, y2, w) => {
    const t = el("line", {x1, y1, x2, y2, "stroke-width": w}, ticks);
    
    
  };
  lonTicks.forEach(l => { tick(xs(l), y0 + PH, xs(l), y0 + PH + 7, 2.4); tick(xs(l), y0, xs(l), y0 - 4, 2); });
  lonMinorTicks.forEach(l => { tick(xs(l), y0 + PH, xs(l), y0 + PH + 4, 1.6); tick(xs(l), y0, xs(l), y0 - 2, 1.2); });
  latTicks.forEach(l => { tick(x0, ys(l), x0 - 6, ys(l), 2.4); tick(x0 + PW, ys(l), x0 + PW + 5, ys(l), 2.4); });
  latMinorTicks.forEach(l => { tick(x0, ys(l), x0 - 3, ys(l), 1.4); tick(x0 + PW, ys(l), x0 + PW + 3, ys(l), 1.4); });

  // Panel title
  const t = el("text", {x: x0 - 2, y: y0 - 9, "font-size": 34.6}, panel);
  t.textContent = title;
  
  

  // Latitude labels on the left column only
  if (col === 0) {
    latLabels.forEach((lab, i) => {
      const lt = el("text", {x: x0 - 28, y: ys(latTicks[i]) + 11, "font-size": 34, "text-anchor": "end"}, panel);
      lt.textContent = lab;
      
      
    });
  }

  // Longitude labels on bottom row only
  if (idx % 4 === 3) {
    lonLabels.forEach((lab, i) => {
      const lt = el("text", {x: xs(lonTicks[i]) - 0.5, y: y0 + PH + 55, "font-size": 34, "text-anchor": "middle"}, panel);
      lt.textContent = lab;
      
      
    });
  }
});

// Side labels
const sideObserved = el("text", {x: 737, y: 31, "font-size": 34.6, "text-anchor": "end"}, root);
sideObserved.textContent = "Observed";


const sideForecast = el("text", {x: 1479, y: 31, "font-size": 34.6, "text-anchor": "end"}, root);
sideForecast.textContent = "CFS Forecast";



// Colorbar
const cb = document.getElementById("colorbar");
const cbX = 229, cbW = 604, cbY = 972, cbH = 23;
const cbStep = cbW / colorHex.length;
colorHex.forEach((c, i) => {
  const r = el("rect", {x: cbX + i * cbStep, y: cbY, width: cbStep, height: cbH, fill: c, stroke: "#000", "stroke-width": 1.4}, cb);
  
  
});
colorLevels.forEach((lv, i) => {
  const t = el("text", {x: cbX + (i + 1) * cbStep, y: 1023, "font-size": 31, "text-anchor": "middle"}, cb);
  t.textContent = String(lv);
  
  
});
</script>
</body>
</html>
